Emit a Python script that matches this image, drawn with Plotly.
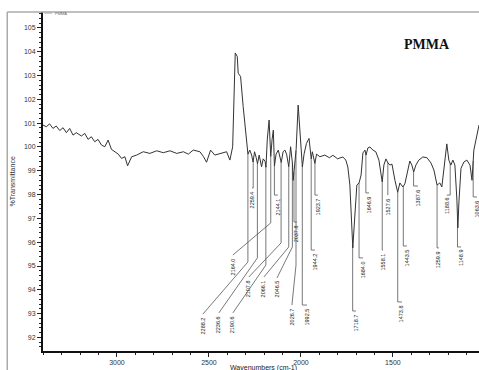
import numpy as np
import plotly.graph_objects as go

# ---- spectrum (wavenumber cm-1, %T) ----
wavenumber = [3402, 3384, 3366, 3348, 3330, 3311, 3293, 3275, 3257, 3239, 3221, 3193, 3175, 3157,
              3139, 3121, 3103, 3084, 3066, 3048, 3030, 3011, 2993, 2975, 2957, 2942, 2920, 2893,
              2857, 2821, 2784, 2748, 2712, 2675, 2639, 2612, 2585, 2549, 2530, 2513, 2491, 2468,
              2431, 2404, 2386, 2371, 2357, 2346, 2341, 2328, 2314, 2300, 2295, 2288, 2278, 2268,
              2260, 2252, 2243, 2236, 2227, 2214, 2205, 2195, 2190, 2183, 2173, 2168, 2164, 2157,
              2150, 2144, 2135, 2123, 2115, 2107, 2097, 2087, 2078, 2066, 2056, 2046, 2042, 2037,
              2030, 2026, 2015, 2008, 2001, 1992, 1983, 1970, 1956, 1944, 1938, 1924, 1915, 1897,
              1870, 1845, 1826, 1800, 1788, 1772, 1756, 1745, 1734, 1718, 1707, 1696, 1684, 1673,
              1663, 1652, 1646, 1636, 1625, 1609, 1593, 1576, 1558, 1549, 1538, 1527, 1516, 1505,
              1489, 1474, 1462, 1446, 1435, 1419, 1408, 1397, 1387, 1375, 1359, 1337, 1315, 1293,
              1277, 1260, 1245, 1234, 1218, 1207, 1196, 1185, 1174, 1163, 1152, 1147, 1141, 1130,
              1114, 1098, 1081, 1070, 1060, 1045, 1032]
transmittance = [100.92, 100.85, 100.97, 100.78, 100.88, 100.69, 100.81, 100.60, 100.78, 100.50,
                 100.60, 100.46, 100.57, 100.32, 100.43, 100.22, 100.32, 100.08, 100.01, 100.29,
                 99.90, 99.80, 99.70, 99.52, 99.59, 99.21, 99.59, 99.66, 99.80, 99.73, 99.84, 99.76,
                 99.84, 99.73, 99.80, 99.70, 99.87, 99.80, 99.60, 99.36, 99.87, 99.66, 99.76, 99.80,
                 99.45, 100.01, 103.95, 103.80, 103.10, 102.96, 101.70, 100.50, 100.29, 99.70,
                 99.87, 99.66, 99.37, 99.80, 99.55, 99.30, 99.66, 99.17, 99.50, 99.40, 99.15,
                 100.30, 101.13, 100.50, 99.60, 100.30, 100.71, 99.20, 99.70, 99.87, 99.60, 99.35,
                 99.80, 99.87, 99.70, 99.17, 100.01, 99.30, 98.60, 99.00, 99.60, 99.90, 101.76,
                 100.80, 99.90, 99.17, 99.70, 100.15, 100.36, 99.50, 99.80, 99.31, 99.70, 99.59,
                 99.66, 99.55, 99.65, 99.50, 99.54, 99.58, 99.45, 99.16, 98.40, 95.76, 97.10,
                 98.40, 98.49, 98.82, 99.75, 99.87, 99.66, 99.96, 100.00, 99.87, 99.80, 99.45,
                 98.53, 99.24, 99.50, 99.33, 99.24, 99.28, 98.60, 98.10, 98.49, 98.32, 98.45,
                 98.95, 99.41, 99.24, 98.95, 99.24, 99.45, 99.58, 99.55, 99.33, 99.03, 98.40,
                 98.49, 98.32, 99.45, 100.13, 99.45, 99.24, 99.45, 99.24, 97.77, 96.60, 97.70,
                 99.10, 99.37, 99.45, 99.24, 98.60, 99.87, 100.40, 100.92]

# ---- peak labels ----
peak_labels = ["2288.2", "2259.4", "2236.6", "2190.6", "2164.0", "2144.1", "2107.8", "2066.1",
               "2046.5", "2037.8", "2026.7", "1992.5", "1944.2", "1923.7", "1718.7", "1684.0",
               "1646.9", "1527.6", "1558.1", "1473.8", "1443.5", "1387.6", "1259.9", "1188.6",
               "1148.9", "1063.6"]
peak_wn = [float(s) for s in peak_labels]

# label placement (wavenumber of label, %T of label top, %T of leader bend)
label_x = [2533, 2266, 2446, 2370, 2370, 2125, 2283, 2201, 2130, 2022, 2049, 1967, 1924, 1908,
           1701, 1663, 1630, 1527, 1554, 1451, 1424, 1364, 1250, 1207, 1130, 1043]
label_top = [92.98, 98.28, 93.03, 93.03, 95.46, 97.98, 94.54, 94.54, 94.50, 96.85, 93.36, 93.36,
             95.67, 97.98, 93.11, 95.34, 98.07, 97.98, 95.67, 93.49, 95.84, 98.36, 95.76, 97.98,
             95.80, 97.90]
label_bend = [95.17, 98.28, 95.34, 95.04, 96.81, 97.98, 95.97, 95.80, 95.80, 96.85, 95.04, 93.36,
              95.67, 97.98, 93.11, 95.34, 98.07, 97.98, 95.67, 93.49, 95.84, 98.36, 95.76, 97.98,
              95.80, 97.90]

x_ticks = [3000, 2500, 2000, 1500]
y_ticks = list(range(92, 106))

wn_arr = np.array(wavenumber)
t_arr = np.array(transmittance)
order = np.argsort(wn_arr)

lx, ly = [], []
for pw, lxx, lt, lb in zip(peak_wn, label_x, label_top, label_bend):
    ts = float(np.interp(pw, wn_arr[order], t_arr[order]))
    lx += [pw, pw, lxx, None]
    ly += [ts, lb, lt, None]

fig = go.Figure()
fig.add_trace(go.Scatter(x=lx, y=ly, mode="lines", line=dict(color="#555", width=0.8),
                         hoverinfo="skip", showlegend=False))
fig.add_trace(go.Scatter(x=wavenumber, y=transmittance, mode="lines",
                         line=dict(color="#333", width=1), showlegend=False))

for txt, xx, tt in zip(peak_labels, label_x, label_top):
    fig.add_annotation(x=xx, y=tt, text=txt, textangle=-90, showarrow=False,
                       xanchor="center", yanchor="top", yshift=-1,
                       font=dict(family="Liberation Sans", size=5.5, color="#222"))

fig.add_annotation(xref="paper", yref="paper", x=0.88, y=0.903, text="<b>PMMA</b>",
                   showarrow=False, xanchor="center", yanchor="middle",
                   font=dict(family="Liberation Serif", size=14, color="#111"))
fig.add_annotation(xref="paper", yref="paper", x=0.023, y=0.997, text="PMMA", showarrow=False,
                   xanchor="left", yanchor="middle",
                   font=dict(family="Liberation Sans", size=4, color="#666"))
fig.add_shape(type="line", xref="paper", yref="paper", x0=0.003, x1=0.021, y0=0.997, y1=0.997,
              line=dict(color="#666", width=0.6))
fig.add_annotation(xref="paper", yref="paper", x=-0.071, y=0.50, text="%Transmittance",
                   textangle=-90, showarrow=False, xanchor="center", yanchor="middle",
                   font=dict(family="Liberation Sans", size=7, color="#333"))
fig.add_annotation(xref="paper", yref="paper", x=0.505, y=0, yshift=-11, text="Wavenumbers (cm-1)",
                   showarrow=False, xanchor="center", yanchor="top",
                   font=dict(family="Liberation Sans", size=7, color="#222"))
# outer grey frame
fig.add_shape(type="line", xref="paper", yref="paper", x0=-0.082, x1=1.0, y0=1.0, y1=1.0,
              line=dict(color="#aaa", width=1.5))
fig.add_shape(type="line", xref="paper", yref="paper", x0=-0.082, x1=-0.082, y0=1.0, y1=-0.06,
              line=dict(color="#aaa", width=1.5))

fig.update_layout(
    width=479, height=370, margin=dict(l=43, r=0, t=12, b=19),
    paper_bgcolor="white", plot_bgcolor="white",
    xaxis=dict(range=[3402, 1032], tickvals=x_ticks, ticks="outside", ticklen=4, tickwidth=1,
               tickcolor="#222", showline=True, linewidth=2, linecolor="#111", showgrid=False,
               zeroline=False, tickfont=dict(family="Liberation Sans", size=7, color="#333"),
               minor=dict(dtick=100, ticks="outside", ticklen=2, tickcolor="#222")),
    yaxis=dict(range=[91.43, 105.67], tickvals=y_ticks, ticks="outside", ticklen=4, tickwidth=1,
               tickcolor="#222", showline=True, linewidth=2, linecolor="#111", showgrid=False,
               zeroline=False, tickfont=dict(family="Liberation Sans", size=7, color="#333"),
               minor=dict(dtick=0.2, ticks="outside", ticklen=2, tickcolor="#222")),
)
fig.write_html("out.html", config={"displayModeBar": False},
               post_script="document.body.style.margin='0';document.body.style.overflow='hidden';")
